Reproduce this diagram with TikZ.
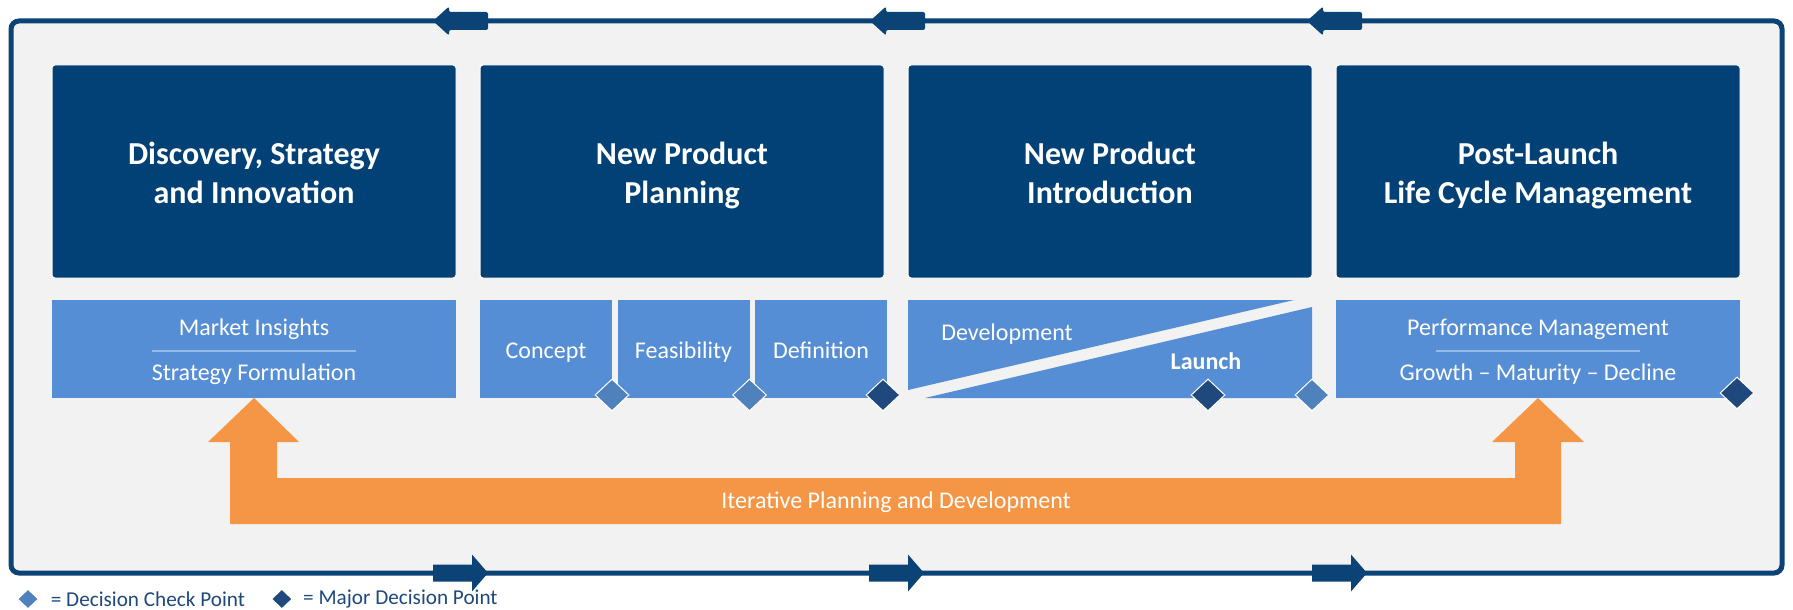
\documentclass[tikz,border=0pt]{standalone}
\usepackage{fontspec}
\setmainfont{Carlito}
\usetikzlibrary{positioning,shapes.geometric,calc}

\definecolor{navy}{RGB}{2,65,117}
\definecolor{frameblue}{RGB}{12,67,118}
\definecolor{lite}{RGB}{85,142,213}
\definecolor{chkblue}{RGB}{79,129,189}
\definecolor{majblue}{RGB}{31,73,125}
\definecolor{sepblue}{RGB}{150,186,230}
\definecolor{iterorange}{RGB}{245,150,70}
\definecolor{bg}{RGB}{242,242,242}

\begin{document}
\begin{tikzpicture}[x=0.5pt,y=-0.5pt,
  phase/.style={rectangle,rounded corners=1.5pt,draw=white,line width=0.5pt,fill=navy,text=white,align=center,minimum width=202pt,minimum height=106.5pt,inner sep=0pt,outer sep=0pt,text height=31.5pt,text depth=0pt,font=\bfseries\fontsize{16}{19.5}\selectfont},
  sub/.style={rectangle,fill=lite,text=white,align=center,minimum width=202pt,minimum height=49pt,inner sep=0pt,outer sep=0pt,text height=9pt,text depth=0pt,font=\fontsize{12}{22.5}\selectfont},
  twoline/.style={text height=31pt,text depth=0pt},
  lbl/.style={text=white,inner sep=0pt,font=\fontsize{12}{14}\selectfont},
  chk/.style={diamond,fill=chkblue,draw=white,line width=0.5pt,inner sep=0pt,minimum width=17pt,minimum height=16pt},
  major/.style={chk,fill=majblue},
  legend/.style={text=majblue,inner sep=0pt,font=\fontsize{10.6}{12}\selectfont},
  sep/.style={draw=sepblue,line width=1pt}]
\useasboundingbox (0,0) rectangle (1793,610);
\fill[white] (0,0) rectangle (1793,610);

% outer loop with its direction arrows
\draw[draw=frameblue,fill=bg,line width=2.5pt,rounded corners=4pt] (11,21) rectangle (1782,573);
\foreach \t in {433,870,1307}
  \fill[frameblue,rounded corners=1pt] (\t,21) -- (\t+16,6.5) -- (\t+16,12) -- (\t+55,12) -- (\t+55,30) -- (\t+16,30) -- (\t+16,35.5) -- cycle;
\foreach \s in {433,869,1312}
  \fill[frameblue] (\s,564.5) -- (\s+39,564.5) -- (\s+39,554.5) -- (\s+55,573) -- (\s+39,591.5) -- (\s+39,581.5) -- (\s,581.5) -- cycle;

% phases
\node[phase](dsi) at (254,171.5){Discovery, Strategy\\and Innovation};
\node[phase,right=12pt of dsi](npp){New Product\\Planning};
\node[phase,right=12pt of npp](npi){New Product\\Introduction};
\node[phase,right=12pt of npi](plc){Post-Launch\\Life Cycle Management};

% activities under each phase
\node[sub,twoline,below=11pt of dsi](mi){Market Insights\\Strategy Formulation};
\node[sub,minimum width=66pt,below=11pt of npp.south west,anchor=north west](cpt){Concept};
\node[sub,minimum width=66pt,right=2.75pt of cpt](fea){Feasibility};
\node[sub,minimum width=66pt,right=2.75pt of fea](dfn){Definition};
\node[sub,fill=none,below=11pt of npi](dev){};
\node[sub,twoline,below=11pt of plc](pm){Performance Management\\Growth – Maturity – Decline};
\draw[sep] ($(mi.center)+(-102,2)$) -- ($(mi.center)+(102,2)$);
\draw[sep] ($(pm.center)+(-102,2)$) -- ($(pm.center)+(102,2)$);

% development / launch split
\fill[lite] (dev.north west) -- ($(dev.north east)+(-18,0)$) -- ($(dev.south west)+(0,-8)$) -- cycle;
\fill[lite] ($(dev.north east)+(0,7)$) -- (dev.south east) -- ($(dev.south west)+(17,0)$) -- cycle;
\node[lbl](devt) at ($(dev.center)+(-103,-15)$){Development};
\node[lbl,font=\bfseries\fontsize{12}{14}\selectfont](lch) at ($(dev.center)+(96,12)$){Launch};

% decision points
\node[chk](ck1) at ($(cpt.south east)+(0,-3)$){};
\node[chk](ck2) at ($(fea.south east)+(0,-3)$){};
\node[major](mj1) at ($(dfn.south east)+(-4,-3)$){};
\node[major](mj2) at ($(dev.south)+(98,-3)$){};
\node[chk](ck3) at ($(dev.south east)+(0,-3)$){};
\node[major](mj3) at ($(pm.south east)+(-3,-5)$){};

% iteration arrow
\fill[iterorange] (mi.south) -- ++(45,44) -- ++(-22,0) -- ++(0,36) -- ($(pm.south)+(-23,80)$) -- ++(0,-36) -- ++(-23,0)
  -- (pm.south) -- ++(46,44) -- ++(-23,0) -- ++(0,82) -- ($(mi.south)+(-24,126)$) -- ++(0,-82) -- ++(-22,0) -- cycle;
\node[lbl](ipd) at ($(mi.south)!0.5!(pm.south)+(0,104)$){Iterative Planning and Development};

% legend
\node[chk,minimum width=10.5pt,minimum height=10pt](lg1) at (28,599){};
\node[legend,right=5.75pt of lg1](lt1){= Decision Check Point};
\node[major,minimum width=10.5pt,minimum height=10pt,right=12.75pt of lt1](lg2){};
\node[legend,right=5pt of lg2](lt2){= Major Decision Point};
\end{tikzpicture}
\end{document}
